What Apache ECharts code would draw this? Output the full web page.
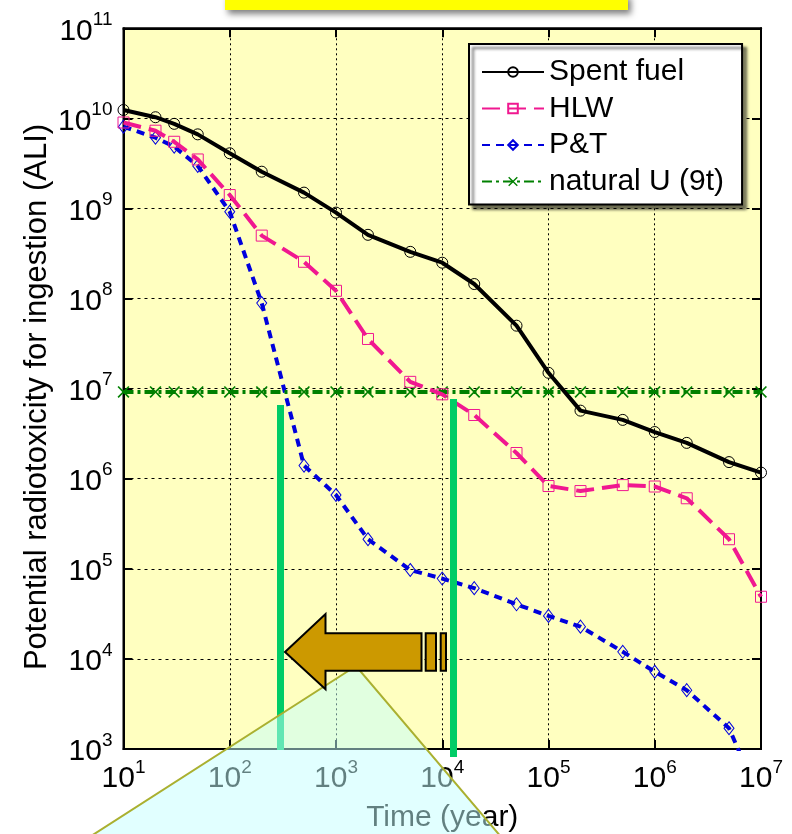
<!DOCTYPE html>
<html>
<head>
<meta charset="utf-8">
<script src="https://cdn.jsdelivr.net/npm/echarts@6/dist/echarts.min.js"></script>
<style>
  html, body { margin: 0; padding: 0; background: #fff; }
  #chart { width: 792px; height: 834px; }
</style>
</head>
<body>
<div id="chart"></div>
<script>
  // time after discharge (year)
  const years = [10, 20, 30, 50, 100, 200, 500, 1e3, 2e3, 5e3, 1e4, 2e4, 5e4, 1e5, 2e5, 5e5, 1e6, 2e6, 5e6, 1e7];

  // potential radiotoxicity (ALI)
  const spentFuel = [1.24e10, 1.03e10, 8.7e9, 6.65e9, 4.1e9, 2.56e9, 1.5e9, 9.0e8, 5.1e8, 3.3e8,
    2.5e8, 1.45e8, 5.0e7, 1.5e7, 5.7e6, 4.5e6, 3.3e6, 2.5e6, 1.53e6, 1.17e6];
  const hlw = [9.0e9, 7.3e9, 5.5e9, 3.5e9, 1.41e9, 5.0e8, 2.56e8, 1.22e8, 3.56e7, 1.19e7,
    8.65e6, 5.1e6, 1.93e6, 8.3e5, 7.3e5, 8.5e5, 8.2e5, 6.07e5, 2.13e5, 4.9e4];
  const pAndT = [8.1e9, 6.1e9, 4.86e9, 2.97e9, 9.2e8, 8.9e7, 1.4e6, 6.6e5, 2.13e5, 9.7e4,
    7.8e4, 6.1e4, 4.04e4, 3.0e4, 2.28e4, 1.2e4, 7.2e3, 4.5e3, 1.7e3, 2.6e2];
  const naturalU = [9.2e6, 9.2e6, 9.2e6, 9.2e6, 9.2e6, 9.2e6, 9.2e6, 9.2e6, 9.2e6, 9.2e6,
    9.2e6, 9.2e6, 9.2e6, 9.2e6, 9.2e6, 9.2e6, 9.2e6, 9.2e6, 9.2e6, 9.2e6];

  const names = ['Spent fuel', 'HLW', 'P&T', 'natural U (9t)'];

  const FONT = '"Liberation Sans", Arial, sans-serif';
  const crossPath = 'path://M0,1L1,0L5,4L9,0L10,1L6,5L10,9L9,10L5,6L1,10L0,9L4,5Z';

  const pairs = arr => years.map((x, i) => [x, arr[i]]);

  const powLabel = {
    formatter: v => '{b|10}{s|' + Math.round(Math.log10(v)) + '}',
    rich: {
      b: { fontSize: 30, fontFamily: FONT, color: '#000', verticalAlign: 'bottom', lineHeight: 36 },
      s: { fontSize: 19, fontFamily: FONT, color: '#000', verticalAlign: 'top', lineHeight: 20 }
    }
  };

  const chart = echarts.init(document.getElementById('chart'));

  const option = {
    animation: false,
    backgroundColor: '#fff',
    textStyle: { fontFamily: FONT },
    grid: {
      left: 123.5, right: 31, top: 28.3, bottom: 85,
      containLabel: false, outerBoundsMode: 'none',
      show: true, backgroundColor: '#ffffc0', borderColor: '#000', borderWidth: 2
    },
    legend: {
      orient: 'vertical',
      left: 469, top: 44,
      data: names,
      backgroundColor: '#fff',
      borderColor: '#000',
      borderWidth: 2,
      padding: [13, 18, 8, 12],
      itemWidth: 62,
      itemHeight: 12,
      itemGap: 6.5,
      selectedMode: false,
      textStyle: { fontSize: 30, fontFamily: FONT, color: '#000' },
      shadowColor: 'rgba(0,0,0,0.55)',
      shadowBlur: 3,
      shadowOffsetX: 4,
      shadowOffsetY: 4
    },
    xAxis: [
      {
        type: 'log', logBase: 10, min: 10, max: 1e7,
        name: 'Time (year)', nameLocation: 'middle', nameGap: 54,
        nameTextStyle: { fontSize: 30, fontFamily: FONT, color: '#000' },
        axisLine: { lineStyle: { color: '#000', width: 2 } },
        axisTick: { inside: true, length: 9, lineStyle: { color: '#000', width: 2 } },
        splitLine: { show: true, lineStyle: { color: '#000', width: 1, type: [2, 3] } },
        axisLabel: Object.assign({ margin: 9, showMinLabel: true, showMaxLabel: true }, powLabel)
      },
      {
        type: 'log', logBase: 10, min: 10, max: 1e7, position: 'top',
        axisLine: { lineStyle: { color: '#000', width: 2 } },
        axisTick: { inside: true, length: 9, lineStyle: { color: '#000', width: 2 } },
        splitLine: { show: false },
        axisLabel: { show: false }
      }
    ],
    yAxis: [
      {
        type: 'log', logBase: 10, min: 1e3, max: 1e11,
        axisLine: { lineStyle: { color: '#000', width: 2 } },
        axisTick: { inside: true, length: 9, lineStyle: { color: '#000', width: 2 } },
        splitLine: { show: true, lineStyle: { color: '#000', width: 1, type: [3, 4] } },
        axisLabel: Object.assign({ margin: 11, showMinLabel: true, showMaxLabel: true }, powLabel)
      },
      {
        type: 'log', logBase: 10, min: 1e3, max: 1e11, position: 'right',
        axisLine: { lineStyle: { color: '#000', width: 2 } },
        axisTick: { inside: true, length: 9, lineStyle: { color: '#000', width: 2 } },
        splitLine: { show: false },
        axisLabel: { show: false }
      }
    ],
    series: [
      {
        name: names[0], type: 'line', data: pairs(spentFuel),
        symbol: 'circle', symbolSize: 11, z: 5,
        lineStyle: { color: '#000', width: 4 },
        itemStyle: { color: 'rgba(0,0,0,0)', borderColor: '#000', borderWidth: 1 },
        emphasis: { disabled: true }
      },
      {
        name: names[1], type: 'line', data: pairs(hlw),
        symbol: 'rect', symbolSize: 11, z: 4,
        lineStyle: { color: '#f01890', width: 4, type: [18, 8] },
        itemStyle: { color: 'rgba(0,0,0,0)', borderColor: '#f01890', borderWidth: 1 },
        emphasis: { disabled: true }
      },
      {
        name: names[2], type: 'line', data: pairs(pAndT),
        symbol: 'diamond', symbolSize: [10, 13], z: 3,
        lineStyle: { color: '#0000dd', width: 4, type: [8, 6] },
        itemStyle: { color: 'rgba(0,0,0,0)', borderColor: '#0000dd', borderWidth: 1 },
        emphasis: { disabled: true }
      },
      {
        name: names[3], type: 'line', data: pairs(naturalU),
        symbol: crossPath, symbolSize: 12, z: 3,
        lineStyle: { color: '#008000', width: 4, type: [10, 4, 3, 4] },
        itemStyle: { color: '#008000' },
        emphasis: { disabled: true }
      }
    ],
    graphic: [
      {
        type: 'rect', z: 100,
        shape: { x: 225, y: -6, width: 403, height: 16 },
        style: { fill: '#ffff00', shadowColor: 'rgba(0,0,0,0.5)', shadowBlur: 6, shadowOffsetX: 3, shadowOffsetY: 4 }
      },
      {
        type: 'text', z: 100,
        x: 37.5, y: 397, rotation: Math.PI / 2,
        style: {
          text: 'Potential radiotoxicity for ingestion (ALI)',
          fontSize: 31, fontFamily: FONT, fill: '#000',
          align: 'center', verticalAlign: 'middle',
          textAlign: 'center', textVerticalAlign: 'middle'
        }
      },
      // green markers on the time axis
      { type: 'rect', z: 50, shape: { x: 277, y: 405, width: 7, height: 345 }, style: { fill: '#00cc66' } },
      { type: 'rect', z: 50, shape: { x: 450, y: 399, width: 7, height: 358 }, style: { fill: '#00cc66' } },
      // callout triangle
      {
        type: 'polygon', z: 60,
        shape: { points: [[88, 838], [356, 666], [502, 838]] },
        style: { fill: 'rgba(195,255,255,0.5)', stroke: '#aab030', lineWidth: 2 }
      },
      // arrow
      {
        type: 'polygon', z: 70,
        shape: { points: [[285, 652], [325.5, 614], [325.5, 633.3], [421.5, 633.3], [421.5, 670.7], [325.5, 670.7], [325.5, 689.3]] },
        style: { fill: '#cc9900', stroke: '#000', lineWidth: 2 }
      },
      { type: 'rect', z: 70, shape: { x: 425.7, y: 633.3, width: 10.3, height: 37.4 }, style: { fill: '#cc9900', stroke: '#000', lineWidth: 2 } },
      { type: 'rect', z: 70, shape: { x: 440.7, y: 633.3, width: 5.3, height: 37.4 }, style: { fill: '#cc9900', stroke: '#000', lineWidth: 2 } }
    ]
  };

  chart.setOption(option);
</script>
</body>
</html>
